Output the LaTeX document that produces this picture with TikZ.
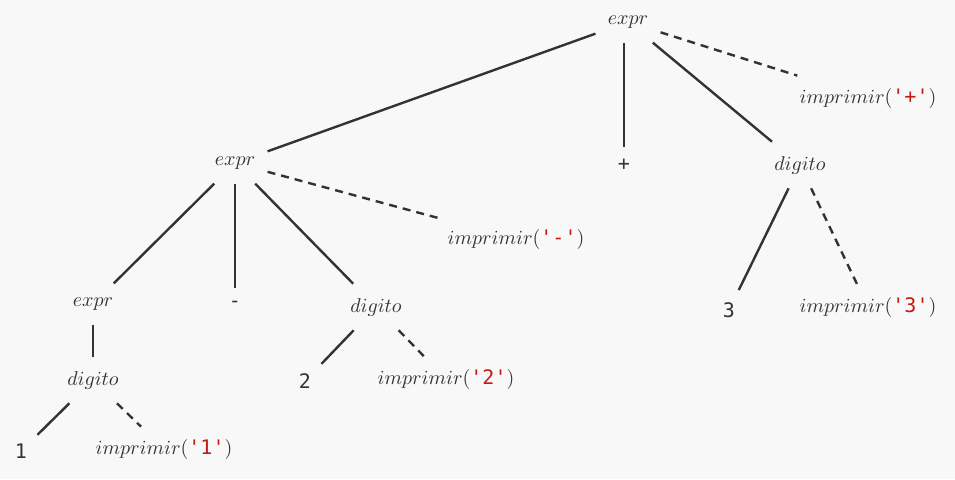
\documentclass[tikz,border=0pt]{standalone}
\usepackage{fontspec}
\setmonofont{DejaVu Sans Mono}
\usepackage{tikz}
\usetikzlibrary{positioning}
\definecolor{fundo}{HTML}{F8F8F8}
\definecolor{linha}{HTML}{333333}
\definecolor{aspas}{HTML}{C41A16}
\tikzstyle{nt} = [inner xsep=6pt, inner ysep=7pt, text=linha]
\tikzstyle{term} = [inner xsep=5pt, inner ysep=6pt, text=linha, font=\ttfamily]
\tikzstyle{acao} = [inner xsep=4pt, inner ysep=6pt, text=linha]
\tikzstyle{ramo} = [line width=1.2pt, draw=linha]
\tikzstyle{ramoacao} = [ramo, dash pattern=on 4pt off 3pt]
\newcommand{\imprimir}[1]{$imprimir($\textcolor{aspas}{\ttfamily'#1'}$)$}

\begin{document}
\begin{tikzpicture}[x=0.5pt, y=-0.5pt]
\useasboundingbox (0,0) rectangle (955,479);
\fill[fundo] (0,0) rectangle (955,479);

% Raiz
\node (raiz) [nt] at (628,22) {$expr$};
\node (impmais) [acao] at (868,98) {\imprimir{+}};
\node (mais) [term] at (624,165) {+};
\node (dig3) [nt] at (800,165) {$digito$};

% Subarvore esquerda
\node (expr2) [nt] at (235,163) {$expr$};
\node (impmenos) [acao] at (516,239) {\imprimir{-}};
\node (expr1) [nt] at (93,304) {$expr$};
\node (menos) [term] at (235,304) {-};
\node (dig2) [nt] at (376,307) {$digito$};

% Folhas
\node (tres) [term] at (729,310) {3};
\node (imptres) [acao] at (868,307) {\imprimir{3}};
\node (dig1) [nt] at (93,380) {$digito$};
\node (dois) [term] at (305,381) {2};
\node (impdois) [acao] at (446,379) {\imprimir{2}};
\node (um) [term] at (21,451) {1};
\node (impum) [acao] at (164,449) {\imprimir{1}};

% Ramos da raiz
\draw [ramo] (raiz) -- (expr2);
\draw [ramo] (mais |- raiz.south) -- (mais);
\draw [ramo] (raiz) -- (dig3);
\draw [ramoacao] (raiz) -- (impmais);

% Ramos de expr2
\draw [ramo] (expr2) -- (expr1);
\draw [ramo] (expr2) -- (menos);
\draw [ramo] (expr2) -- (dig2);
\draw [ramoacao] (expr2) -- (impmenos);

% Ramos de digito
\draw [ramo] (dig3) -- (tres);
\draw [ramoacao] (dig3) -- (imptres);
\draw [ramo] (expr1) -- (dig1);
\draw [ramo] (dig2) -- (dois);
\draw [ramoacao] (dig2) -- (impdois);
\draw [ramo] (dig1) -- (um);
\draw [ramoacao] (dig1) -- (impum);

\end{tikzpicture}
\end{document}
